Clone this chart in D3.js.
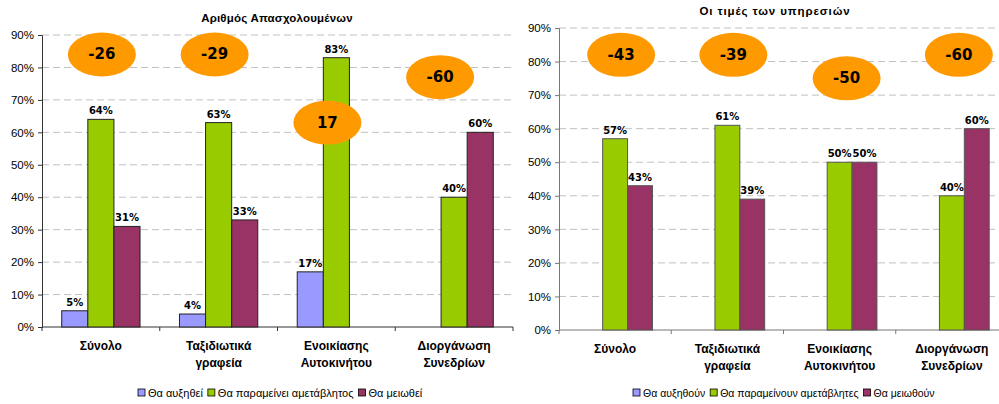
<!DOCTYPE html>
<html>
<head>
<meta charset="utf-8">
<script src="https://cdn.jsdelivr.net/npm/d3@7"></script>
<style>
  body { margin: 0; background: #fff; }
  svg { display: block; }
</style>
</head>
<body>
<svg id="chart" width="999" height="404"></svg>
<script>
// categories (second line after \n)
const categories = ["Σύνολο", "Ταξιδιωτικά\nγραφεία", "Ενοικίασης\nΑυτοκινήτου", "Διοργάνωση\nΣυνεδρίων"];
const yTicks = [0, 10, 20, 30, 40, 50, 60, 70, 80, 90];

// chart 1: Αριθμός Απασχολουμένων
const jobsSeries = ["Θα αυξηθεί", "Θα παραμείνει αμετάβλητος", "Θα μειωθεί"];
const jobsUp = [5, 4, 17, 0];
const jobsSame = [64, 63, 83, 40];
const jobsDown = [31, 33, 0, 60];
const jobsBalance = [-26, -29, 17, -60];
const jobsBalanceAt = [84, 84, 63, 77];   // height (in %) of the balance bubble

// chart 2: Οι τιμές των υπηρεσιών
const priceSeries = ["Θα αυξηθούν", "Θα παραμείνουν αμετάβλητες", "Θα μειωθούν"];
const priceUp = [0, 0, 0, 0];
const priceSame = [57, 61, 50, 40];
const priceDown = [43, 39, 50, 60];
const priceBalance = [-43, -39, -50, -60];
const priceBalanceAt = [82, 82, 75, 82];

const colors = ["#9999FF", "#99CC00", "#993366"];
const svg = d3.select("#chart");

function drawChart(opt) {
  const g = svg.append("g");
  const x = d3.scaleBand().domain(categories).range([opt.left, opt.right]);
  const bw = x.bandwidth();
  const groupW = bw * 0.665;
  const xs = d3.scaleBand().domain(opt.series).range([(bw - groupW) / 2, (bw + groupW) / 2]);
  const y = d3.scaleLinear().domain([0, 90]).range([opt.bottom, opt.top]);

  // dashed gridlines
  g.append("g").selectAll("line")
    .data(yTicks.filter(d => d > 0))
    .join("line")
    .attr("x1", opt.left).attr("x2", opt.right)
    .attr("y1", d => y(d)).attr("y2", d => y(d))
    .attr("stroke", "#c0c0c0")
    .attr("stroke-dasharray", "7,4");

  // y axis
  const yAxis = g.append("g")
    .attr("transform", `translate(${opt.left},0)`)
    .call(d3.axisLeft(y).tickValues(yTicks).tickFormat(d => d + "%").tickSize(4).tickPadding(4));
  yAxis.select(".domain").attr("stroke", opt.axisColor);
  yAxis.selectAll(".tick line").attr("stroke", opt.axisColor);
  yAxis.selectAll("text")
    .attr("font-family", "'Liberation Sans', Arial, sans-serif")
    .attr("font-size", 11.5)
    .attr("fill", "#000");

  // x axis line with ticks on band boundaries
  g.append("line")
    .attr("x1", opt.left).attr("x2", opt.right)
    .attr("y1", opt.bottom).attr("y2", opt.bottom)
    .attr("stroke", opt.axisColor);
  g.append("g").selectAll("line")
    .data(categories.concat([null]))
    .join("line")
    .attr("x1", (d, i) => opt.left + i * bw).attr("x2", (d, i) => opt.left + i * bw)
    .attr("y1", opt.bottom).attr("y2", opt.bottom + 4)
    .attr("stroke", opt.axisColor);

  // category labels
  g.append("g").selectAll("text")
    .data(categories)
    .join("text")
    .attr("x", d => x(d) + bw / 2)
    .attr("y", opt.bottom + 23)
    .attr("text-anchor", "middle")
    .attr("font-family", "'Liberation Sans', Arial, sans-serif")
    .attr("font-size", 12)
    .attr("font-weight", "bold")
    .each(function(d) {
      const t = d3.select(this);
      d.split("\n").forEach((line, i) => {
        t.append("tspan").attr("x", x(d) + bw / 2).attr("dy", i ? 17 : 0).text(line);
      });
    });

  // bars
  const rows = [];
  opt.values.forEach((vals, s) => {
    vals.forEach((v, c) => { if (v > 0) rows.push({s, c, v}); });
  });
  const bars = g.append("g");
  bars.selectAll("rect")
    .data(rows)
    .join("rect")
    .attr("x", d => x(categories[d.c]) + xs(opt.series[d.s]))
    .attr("y", d => y(d.v))
    .attr("width", xs.bandwidth())
    .attr("height", d => opt.bottom - y(d.v))
    .attr("fill", d => colors[d.s])
    .attr("stroke", opt.barStroke)
    .attr("stroke-width", 1);

  bars.selectAll("text")
    .data(rows)
    .join("text")
    .attr("x", d => x(categories[d.c]) + xs(opt.series[d.s]) + xs.bandwidth() / 2)
    .attr("y", d => y(d.v) - 5)
    .attr("text-anchor", "middle")
    .attr("font-family", "'DejaVu Sans', Verdana, sans-serif")
    .attr("font-size", 10)
    .attr("font-weight", "bold")
    .text(d => d.v + "%");

  // balance bubbles
  const bub = g.append("g").selectAll("g")
    .data(opt.balance.map((v, i) => ({v, i, at: opt.balanceAt[i]})))
    .join("g")
    .attr("transform", d => `translate(${x(categories[d.i]) + bw / 2 + opt.bubbleShift[d.i]},${y(d.at)})`);
  bub.append("ellipse")
    .attr("rx", 34).attr("ry", 22)
    .attr("fill", "#FF9900");
  bub.append("text")
    .attr("y", 5)
    .attr("text-anchor", "middle")
    .attr("font-family", "'DejaVu Sans', Verdana, sans-serif")
    .attr("font-size", 15)
    .attr("font-weight", "bold")
    .text(d => d.v);

  // title
  g.append("text")
    .attr("x", opt.titleX).attr("y", opt.titleY)
    .attr("text-anchor", "middle")
    .attr("font-family", "'Liberation Sans', Arial, sans-serif")
    .attr("font-size", opt.titleSize)
    .attr("font-weight", "bold")
    .attr("letter-spacing", opt.titleSpacing)
    .text(opt.title);

  // legend
  const leg = g.append("g").attr("transform", `translate(${opt.legendX},${opt.legendY})`);
  let lx = 0;
  opt.series.forEach((name, i) => {
    leg.append("rect")
      .attr("x", lx).attr("y", -8).attr("width", 7).attr("height", 7)
      .attr("fill", colors[i]).attr("stroke", "#000").attr("stroke-width", 0.8);
    const t = leg.append("text")
      .attr("x", lx + 10).attr("y", 0)
      .attr("font-family", "'Liberation Sans', Arial, sans-serif")
      .attr("font-size", opt.legendSize)
      .text(name);
    lx += 10 + t.node().getComputedTextLength() + 5;
  });
}

drawChart({
  title: "Αριθμός Απασχολουμένων", titleX: 277, titleY: 22, titleSize: 11.5, titleSpacing: 0.2,
  series: jobsSeries, values: [jobsUp, jobsSame, jobsDown],
  balance: jobsBalance, balanceAt: jobsBalanceAt, bubbleShift: [1, -4, -9, -14],
  left: 42, right: 513, top: 35, bottom: 327,
  axisColor: "#333", barStroke: "#222",
  legendX: 138, legendY: 397, legendSize: 11
});

drawChart({
  title: "Οι τιμές των υπηρεσιών", titleX: 775, titleY: 15, titleSize: 11.5, titleSpacing: 0.9,
  series: priceSeries, values: [priceUp, priceSame, priceDown],
  balance: priceBalance, balanceAt: priceBalanceAt, bubbleShift: [6, 6, 7, 7],
  left: 559, right: 1008, top: 28, bottom: 330,
  axisColor: "#777", barStroke: "#555",
  legendX: 633, legendY: 397, legendSize: 10.5
});
</script>
</body>
</html>
